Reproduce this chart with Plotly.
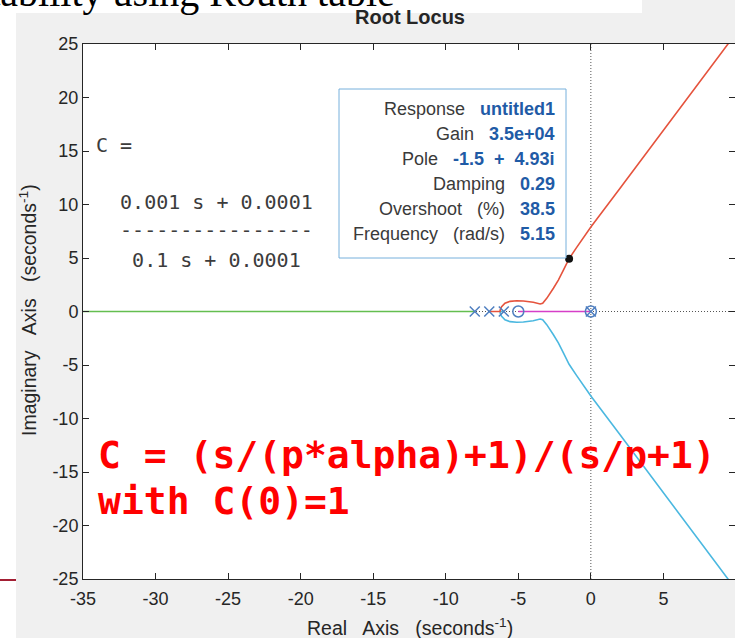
import plotly.graph_objects as go

# ---- root locus data (real / imaginary parts) ----
POLES_RE = [-8.0, -7.0, -6.0, 0.0]
ZEROS_RE = [-5.0, 0.0]

# branch leaving the pole at -7, breaking away and heading to the upper asymptote
RED_RE = [-7.0, -6.26, -6.24, -6.15, -5.92, -5.57, -5.11, -4.65, -3.97, -3.5, -3.32,
          -3.04, -2.58, -2.24, -1.9, -1.5, -1.0, -0.5, 0.0, 2.0, 4.0, 6.0, 8.0, 9.45, 10.5]
RED_IM = [0.0, 0.0, 0.2, 0.45, 0.77, 0.95, 1.01, 0.98, 0.86, 0.70, 0.77,
          1.23, 2.17, 2.94, 3.85, 4.93, 5.95, 6.95, 7.9, 11.5, 15.15, 18.8, 22.4, 25.0, 26.9]

# conjugate branch leaving the pole at -6
BLUE_RE = [-6.0, -6.26, -6.24, -6.15, -5.92, -5.57, -5.11, -4.65, -3.97, -3.5, -3.32,
           -3.04, -2.58, -2.24, -1.9, -1.5, -1.0, -0.5, 0.0, 2.0, 4.0, 6.0, 8.0, 9.45, 10.5]
BLUE_IM = [0.0, 0.0, -0.2, -0.45, -0.77, -0.95, -1.01, -0.98, -0.86, -0.70, -0.77,
           -1.23, -2.17, -2.94, -3.85, -4.93, -5.95, -6.95, -7.9, -11.5, -15.15, -18.8, -22.4, -25.0, -26.9]

# real-axis branches
GREEN_RE = [-8.0, -36.0]
MAGENTA_RE = [0.0, -5.0]

# selected closed-loop pole and its data tip values
TIP_RE, TIP_IM = -1.5, 4.93
SP = "\u00a0\u00a0 "
TIP_ROWS = [
    ("Response", "untitled1"),
    ("Gain", "3.5e+04"),
    ("Pole", "-1.5\u00a0 +\u00a0 4.93i"),
    ("Damping", "0.29"),
    (f"Overshoot{SP}(%)", "38.5"),
    (f"Frequency{SP}(rad/s)", "5.15"),
]

X_TICKS = [-35, -30, -25, -20, -15, -10, -5, 0, 5, 10]
Y_TICKS = [-25, -20, -15, -10, -5, 0, 5, 10, 15, 20, 25]

TF_LINES = ["C =", "\u00a0\u00a00.001 s + 0.0001", "\u00a0\u00a0----------------",
            "\u00a0\u00a0\u00a00.1 s + 0.0001"]
NOTE_LINES = ["C = (s/(p*alpha)+1)/(s/p+1)", "with C(0)=1"]

# ---- figure geometry ----
W, H = 735, 638
L, R, T, B = 83, 0, 44, 59
PW, PH = W - L - R, H - T - B
X_PER_UNIT = 14.51


def px(x):
    return (x - L) / PW


def py(y):
    return (H - B - y) / PH


AX = "#262626"
RED, CYAN, GREEN, MAGENTA, MARK = "#e5533d", "#4bb8e0", "#64be50", "#d63fc8", "#4f7fc0"

fig = go.Figure()

line_w = 1.6
fig.add_trace(go.Scatter(x=GREEN_RE, y=[0] * len(GREEN_RE), mode="lines",
                         line=dict(color=GREEN, width=line_w)))
fig.add_trace(go.Scatter(x=MAGENTA_RE, y=[0] * len(MAGENTA_RE), mode="lines",
                         line=dict(color=MAGENTA, width=line_w)))
fig.add_trace(go.Scatter(x=BLUE_RE, y=BLUE_IM, mode="lines",
                         line=dict(color=CYAN, width=line_w)))
fig.add_trace(go.Scatter(x=RED_RE, y=RED_IM, mode="lines",
                         line=dict(color=RED, width=line_w)))
fig.add_trace(go.Scatter(x=POLES_RE, y=[0] * len(POLES_RE), mode="markers",
                         marker=dict(symbol="x-thin-open", size=10, color=MARK,
                                     line=dict(color=MARK, width=1.5))))
fig.add_trace(go.Scatter(x=ZEROS_RE, y=[0] * len(ZEROS_RE), mode="markers",
                         marker=dict(symbol="circle-open", size=11, color=MARK,
                                     line=dict(color=MARK, width=1.5))))
fig.add_trace(go.Scatter(x=[TIP_RE], y=[TIP_IM], mode="markers",
                         marker=dict(symbol="circle", size=8, color="#111111")))

shapes = [
    # dotted real / imaginary axes
    dict(type="line", xref="x", yref="y", x0=0, x1=0, y0=-25, y1=25, layer="below",
         line=dict(color="#555555", width=1, dash="1px,2px")),
    dict(type="line", xref="x", yref="y", x0=-35, x1=10, y0=0, y1=0, layer="below",
         line=dict(color="#555555", width=1, dash="1px,2px")),
    # white slide margins around the figure
    dict(type="rect", xref="paper", yref="paper", x0=px(0), x1=px(16), y0=py(H), y1=py(0),
         fillcolor="white", line=dict(width=0), layer="below"),
    dict(type="rect", xref="paper", yref="paper", x0=px(0), x1=px(642), y0=py(13), y1=py(0),
         fillcolor="white", line=dict(width=0), layer="below"),
    dict(type="line", xref="paper", yref="paper", x0=px(0), x1=px(16), y0=py(580), y1=py(580),
         line=dict(color="#a31f34", width=2)),
    # data tip box
    dict(type="rect", xref="paper", yref="paper", x0=px(339), x1=px(566), y0=py(258), y1=py(89),
         fillcolor="white", line=dict(color="#77b0dc", width=1), layer="above"),
]


def note(text, x, y, xanchor="center", **kw):
    d = dict(text=text, x=px(x), y=py(y), xref="paper", yref="paper", xanchor=xanchor,
             yanchor="middle", showarrow=False)
    d.update(kw)
    return d


ann = []
ann.append(note("<b>Root Locus</b>", 410, 17, font=dict(size=20, color=AX)))
ann.append(note(f"Real{SP}Axis{SP}(seconds<sup>-1</sup>)", 410, 627,
                font=dict(size=19.5, color=AX)))
ann.append(note(f"Imaginary{SP}Axis{SP}(seconds<sup>-1</sup>)", 28, 310, textangle=-90,
                font=dict(size=19.5, color=AX)))
ann.append(note("Stability using Routh table", -35, -7, xanchor="left",
                font=dict(family="Liberation Serif", size=40, color="black")))

row_y = [109, 134, 159, 184, 209, 234]
for (lab, val), yy in zip(TIP_ROWS, row_y):
    ann.append(note(f"{lab}{SP}<span style='color:#1f5ba6'><b>{val}</b></span>", 557, yy,
                    xanchor="right", font=dict(size=18, color="#3a3a3a")))

tf_y = [145, 202, 230, 260]
for txt, yy in zip(TF_LINES, tf_y):
    ann.append(note(txt, 94, yy, xanchor="left",
                    font=dict(family="DejaVu Sans Mono", size=20, color="#3c3c3c")))

note_y = [455, 501]
for txt, yy in zip(NOTE_LINES, note_y):
    ann.append(note(f"<b>{txt}</b>", 96, yy, xanchor="left",
                    font=dict(family="DejaVu Sans Mono", size=38, color="#ff0000")))

axis_common = dict(ticks="inside", ticklen=6, tickwidth=1, tickcolor=AX, showline=True,
                   linecolor=AX, linewidth=1, mirror="ticks", showgrid=False, zeroline=False,
                   tickfont=dict(size=18, color=AX))

fig.update_layout(
    width=W, height=H, margin=dict(l=L, r=R, t=T, b=B, pad=0),
    paper_bgcolor="#f0f0f0", plot_bgcolor="white", showlegend=False,
    font=dict(family="Liberation Sans"),
    xaxis=dict(range=[-35, -35 + PW / X_PER_UNIT], tickvals=X_TICKS,
               ticktext=[str(v) for v in X_TICKS], ticklabelstandoff=3, **axis_common),
    yaxis=dict(range=[-25, 25], tickvals=Y_TICKS,
               ticktext=[str(v) for v in Y_TICKS], **axis_common),
    shapes=shapes, annotations=ann,
)

fig.write_html("out.html")
